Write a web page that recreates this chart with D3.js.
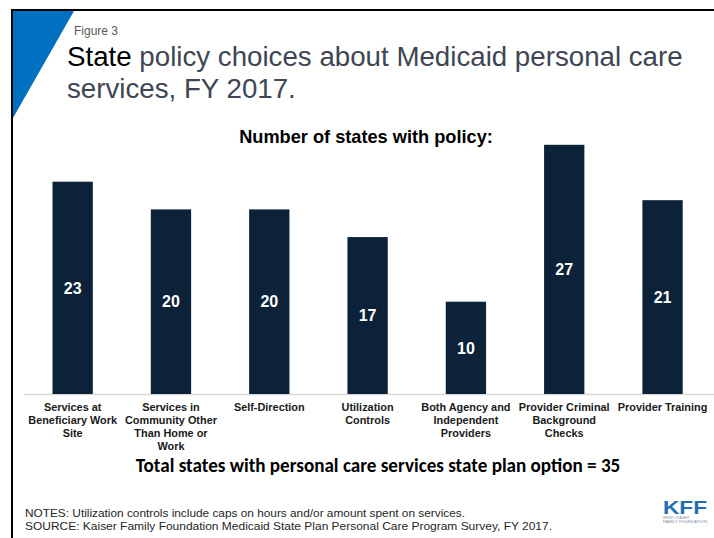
<!DOCTYPE html>
<html>
<head>
<meta charset="utf-8">
<script src="https://cdn.jsdelivr.net/npm/d3@7"></script>
<style>
  html, body { margin: 0; padding: 0; background: #fff; }
  svg { display: block; }
</style>
</head>
<body>
<svg id="chart" width="714" height="538"></svg>
<script>
// Policy categories (line breaks mark the wrapped label lines)
const categories = [
  "Services at\nBeneficiary Work\nSite",
  "Services in\nCommunity Other\nThan Home or\nWork",
  "Self-Direction",
  "Utilization\nControls",
  "Both Agency and\nIndependent\nProviders",
  "Provider Criminal\nBackground\nChecks",
  "Provider Training"
];
// Number of states with each policy
const stateCounts = [23, 20, 20, 17, 10, 27, 21];
const totalStates = 35;

const figureLabel = "Figure 3";
const titleLead = "State";
const titleRest1 = " policy choices about Medicaid personal care";
const titleLine2 = "services, FY 2017.";
const chartHeading = "Number of states with policy:";
const totalNote = "Total states with personal care services state plan option = " + totalStates;
const notesLines = [
  "NOTES: Utilization controls include caps on hours and/or amount spent on services.",
  "SOURCE:  Kaiser Family Foundation Medicaid State Plan Personal Care Program Survey, FY 2017."
];

const svg = d3.select("#chart");
const W = 714, H = 538;
const SANS = "'Liberation Sans', Arial, sans-serif";

// Slide frame and corner accent
svg.append("path")
  .attr("d", "M13,11 L74,11 L13,118 Z")
  .attr("fill", "#0070c0");
svg.append("line").attr("x1", 11).attr("x2", W).attr("y1", 10).attr("y2", 10)
  .attr("stroke", "#000").attr("stroke-width", 2);
svg.append("line").attr("x1", 12).attr("x2", 12).attr("y1", 9).attr("y2", H)
  .attr("stroke", "#000").attr("stroke-width", 2);

// Fit text to a target width by adjusting font size
function fitWidth(sel, target) {
  const fs = parseFloat(sel.attr("font-size"));
  const w = sel.node().getComputedTextLength();
  if (w > 0) sel.attr("font-size", (fs * target / w).toFixed(2));
  return sel;
}

// Header
svg.append("text")
  .attr("x", 74).attr("y", 35)
  .attr("font-family", SANS)
  .attr("font-size", 12).attr("fill", "#595959")
  .text(figureLabel);

const t1 = svg.append("text")
  .attr("x", 67).attr("y", 66)
  .attr("font-family", SANS)
  .attr("font-size", 25).attr("fill", "#3e4654");
t1.append("tspan").attr("fill", "#000").text(titleLead);
t1.append("tspan").text(titleRest1);
fitWidth(t1, 616);
const titleSize = t1.attr("font-size");

svg.append("text")
  .attr("x", 67).attr("y", 98)
  .attr("font-family", SANS)
  .attr("font-size", titleSize).attr("fill", "#3e4654")
  .text(titleLine2);

fitWidth(svg.append("text")
  .attr("x", 366).attr("y", 143)
  .attr("text-anchor", "middle")
  .attr("font-family", SANS)
  .attr("font-weight", "bold")
  .attr("font-size", 15).attr("fill", "#000")
  .text(chartHeading), 254);

// Scales
const x = d3.scaleBand()
  .domain(d3.range(categories.length))
  .range([23.5, 711.7])
  .paddingInner(0.59)
  .paddingOuter(0.295);

const y = d3.scaleLinear()
  .domain([0, 30])
  .range([394, 117.1]);

// Baseline axis
const axis = svg.append("g")
  .attr("transform", `translate(0,${y(0)})`)
  .call(d3.axisBottom(x).tickSize(0).tickFormat(""));
axis.select(".domain")
  .attr("d", "M24,0.5H714")
  .attr("stroke", "#d9d9d9").attr("stroke-width", 1.5);

// Bars
svg.append("g").selectAll("rect")
  .data(stateCounts)
  .join("rect")
  .attr("x", (d, i) => x(i))
  .attr("width", x.bandwidth())
  .attr("y", d => y(d))
  .attr("height", d => y(0) - y(d))
  .attr("fill", "#0c2239");

// Value labels centred in each bar
svg.append("g").selectAll("text")
  .data(stateCounts)
  .join("text")
  .attr("x", (d, i) => x(i) + x.bandwidth() / 2)
  .attr("y", d => (y(d) + y(0)) / 2)
  .attr("dy", "0.36em")
  .attr("text-anchor", "middle")
  .attr("font-family", SANS)
  .attr("font-weight", "bold")
  .attr("font-size", 16)
  .attr("fill", "#fff")
  .text(d => d);

// Category labels
const catG = svg.append("g");
categories.forEach((c, i) => {
  const t = catG.append("text")
    .attr("text-anchor", "middle")
    .attr("font-family", SANS)
    .attr("font-weight", "bold")
    .attr("font-size", 10.9)
    .attr("fill", "#1a1a1a");
  c.split("\n").forEach((line, j) => {
    t.append("tspan")
      .attr("x", x(i) + x.bandwidth() / 2)
      .attr("y", 411 + j * 13)
      .text(line);
  });
});

// Total note
fitWidth(svg.append("text")
  .attr("x", 378).attr("y", 472)
  .attr("text-anchor", "middle")
  .attr("font-family", "Carlito, Lato, 'Open Sans', sans-serif")
  .attr("font-weight", "bold")
  .attr("font-size", 16).attr("fill", "#000")
  .text(totalNote), 485);

// Notes and source
const noteWidths = [440, 527];
notesLines.forEach((line, i) => {
  svg.append("text")
    .attr("x", 25).attr("y", 517 + i * 13)
    .attr("font-family", "'Liberation Sans Narrow', 'Arial Narrow', 'Liberation Sans', sans-serif")
    .attr("font-size", 11.5).attr("fill", "#262626")
    .attr("textLength", noteWidths[i])
    .attr("lengthAdjust", "spacingAndGlyphs")
    .text(line);
});

// KFF logo
const logo = svg.append("g").attr("transform", "translate(663,501)");
logo.append("text")
  .attr("x", 0).attr("y", 12.5)
  .attr("font-family", "'Liberation Sans Narrow', 'Liberation Sans', sans-serif")
  .attr("font-weight", "bold")
  .attr("font-size", 17.5)
  .attr("fill", "#1f6db3")
  .attr("textLength", 44)
  .attr("lengthAdjust", "spacingAndGlyphs")
  .text("KFF");
logo.append("text")
  .attr("x", 0).attr("y", 18)
  .attr("font-family", SANS)
  .attr("font-size", 3.6).attr("fill", "#7a8ba0")
  .attr("textLength", 26).attr("lengthAdjust", "spacingAndGlyphs")
  .text("HENRY J KAISER");
logo.append("text")
  .attr("x", 0).attr("y", 22)
  .attr("font-family", SANS)
  .attr("font-size", 3.6).attr("fill", "#7a8ba0")
  .attr("textLength", 44).attr("lengthAdjust", "spacingAndGlyphs")
  .text("FAMILY FOUNDATION");
</script>
</body>
</html>
